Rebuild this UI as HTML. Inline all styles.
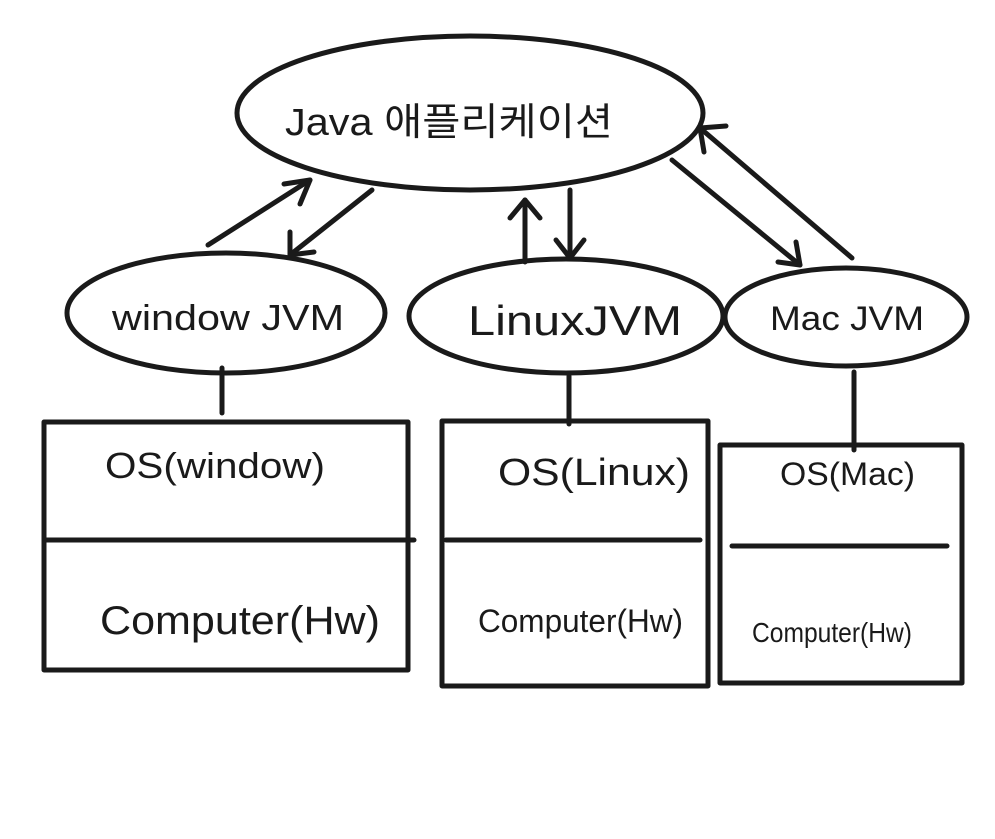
<!DOCTYPE html>
<html><head><meta charset="utf-8"><style>
html,body{margin:0;padding:0;background:#fff;width:995px;height:839px;overflow:hidden}
text{font-family:"Liberation Sans","Noto Sans CJK KR",sans-serif;fill:#1a1a1a}
</style></head><body>
<svg width="995" height="839" viewBox="0 0 995 839" xmlns="http://www.w3.org/2000/svg">
<g fill="none" stroke="#1a1a1a" stroke-width="5" stroke-linecap="round" stroke-linejoin="round">
<ellipse cx="470" cy="113" rx="233" ry="77"/>
<ellipse cx="226" cy="313" rx="159" ry="60"/>
<ellipse cx="566" cy="316" rx="157" ry="57"/>
<ellipse cx="846" cy="317" rx="121" ry="49"/>
<rect x="44" y="422" width="364" height="248"/>
<line x1="44" y1="540" x2="414" y2="540"/>
<rect x="442" y="421" width="266" height="265"/>
<line x1="446" y1="540" x2="700" y2="540"/>
<rect x="720" y="445" width="242" height="238"/>
<line x1="732" y1="546" x2="947" y2="546"/>
<line x1="222" y1="368" x2="222" y2="413"/>
<line x1="569" y1="376" x2="569" y2="424"/>
<line x1="854" y1="372" x2="854" y2="450"/>
<line x1="208" y1="245" x2="310" y2="180"/><polyline points="284,184 310,180 300,204"/>
<line x1="372" y1="190" x2="290" y2="255"/><polyline points="290,232 290,255 314,252"/>
<line x1="525" y1="262" x2="525" y2="200"/><polyline points="510,218 525,200 540,218"/>
<line x1="570" y1="190" x2="570" y2="258"/><polyline points="556,240 570,258 584,240"/>
<line x1="672" y1="160" x2="800" y2="265"/><polyline points="778,262 800,265 796,242"/>
<line x1="852" y1="258" x2="700" y2="128"/><polyline points="704,152 700,128 726,126"/>
</g>
<text x="285" y="135" font-size="38" textLength="328" lengthAdjust="spacingAndGlyphs">Java 애플리케이션</text>
<text x="112" y="330" font-size="36" textLength="232" lengthAdjust="spacingAndGlyphs">window JVM</text>
<text x="468" y="335" font-size="42" textLength="214" lengthAdjust="spacingAndGlyphs">LinuxJVM</text>
<text x="770" y="330" font-size="34" textLength="154" lengthAdjust="spacingAndGlyphs">Mac JVM</text>
<text x="105" y="478" font-size="36" textLength="220" lengthAdjust="spacingAndGlyphs">OS(window)</text>
<text x="100" y="634" font-size="40" textLength="280" lengthAdjust="spacingAndGlyphs">Computer(Hw)</text>
<text x="498" y="485" font-size="38" textLength="192" lengthAdjust="spacingAndGlyphs">OS(Linux)</text>
<text x="478" y="632" font-size="32" textLength="205" lengthAdjust="spacingAndGlyphs">Computer(Hw)</text>
<text x="780" y="485" font-size="32" textLength="135" lengthAdjust="spacingAndGlyphs">OS(Mac)</text>
<text x="752" y="642" font-size="28" textLength="160" lengthAdjust="spacingAndGlyphs">Computer(Hw)</text>
</svg>
</body></html>
